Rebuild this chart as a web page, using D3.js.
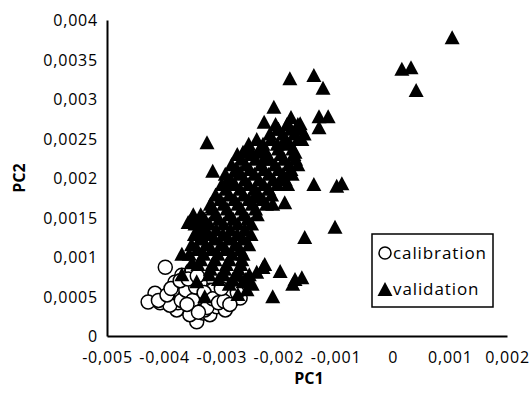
<!DOCTYPE html>
<html>
<head>
<meta charset="utf-8">
<script src="https://cdn.jsdelivr.net/npm/d3@7"></script>
<style>
  body { margin: 0; background: #fff; }
  svg text { font-family: "Open Sans", sans-serif; fill: #000; }
</style>
</head>
<body>
<figure id="scatter" style="margin:0"></figure>
<script>
// tick labels
const xTicks = [-0.005, -0.004, -0.003, -0.002, -0.001, 0, 0.001, 0.002];
const yTicks = [0, 0.0005, 0.001, 0.0015, 0.002, 0.0025, 0.003, 0.0035, 0.004];

// calibration set (PC1, PC2)
const calibration = [
  [-0.00398, 0.00087], [-0.00416, 0.00054], [-0.00428, 0.00043], [-0.00407, 0.00042],
  [-0.00385, 0.00048], [-0.00372, 0.00056], [-0.00369, 0.00077], [-0.00381, 0.00068],
  [-0.00355, 0.00077], [-0.00343, 0.00018], [-0.00364, 0.00035], [-0.00349, 0.00037],
  [-0.00325, 0.00042], [-0.00311, 0.00039], [-0.00302, 0.00049], [-0.00280, 0.00046],
  [-0.00276, 0.00062], [-0.00320, 0.00058], [-0.00337, 0.00067], [-0.00360, 0.00061],
  [-0.00378, 0.00033], [-0.00332, 0.00029], [-0.00355, 0.00027], [-0.00320, 0.00027],
  [-0.00376, 0.00042], [-0.00315, 0.00058], [-0.00297, 0.00052], [-0.00308, 0.00037],
  [-0.00341, 0.00048], [-0.00364, 0.00050], [-0.00346, 0.00056], [-0.00293, 0.00033],
  [-0.00267, 0.00048], [-0.00390, 0.00039], [-0.00351, 0.00084], [-0.00329, 0.00033],
  [-0.00288, 0.00056], [-0.00410, 0.00045], [-0.00395, 0.00052], [-0.00370, 0.00045],
  [-0.00362, 0.00058], [-0.00350, 0.00045], [-0.00345, 0.00062], [-0.00330, 0.00055],
  [-0.00325, 0.00036], [-0.00315, 0.00047], [-0.00305, 0.00042], [-0.00295, 0.00044],
  [-0.00285, 0.00040], [-0.00340, 0.00030], [-0.00360, 0.00040], [-0.00388, 0.00060],
  [-0.00372, 0.00070], [-0.00358, 0.00072], [-0.00342, 0.00076], [-0.00272, 0.00055],
  [-0.00300, 0.00060]
];

// validation set (PC1, PC2)
const validation = [
  [0.00104, 0.00377], [0.00016, 0.00337], [0.00032, 0.00339], [0.00041, 0.00310],
  [-0.00180, 0.00325], [-0.00138, 0.00329], [-0.00122, 0.00313], [-0.00208, 0.00289],
  [-0.00225, 0.00270], [-0.00178, 0.00276], [-0.00162, 0.00268], [-0.00129, 0.00277],
  [-0.00113, 0.00277], [-0.00129, 0.00263], [-0.00201, 0.00261], [-0.00159, 0.00248],
  [-0.00171, 0.00232], [-0.00262, 0.00232], [-0.00236, 0.00232], [-0.00192, 0.00244],
  [-0.00220, 0.00223], [-0.00192, 0.00201], [-0.00138, 0.00191], [-0.00098, 0.00189],
  [-0.00089, 0.00192], [-0.00238, 0.00181], [-0.00325, 0.00244], [-0.00315, 0.00208],
  [-0.00271, 0.00208], [-0.00290, 0.00195], [-0.00267, 0.00206], [-0.00232, 0.00175],
  [-0.00210, 0.00166], [-0.00189, 0.00168], [-0.00154, 0.00124], [-0.00101, 0.00137],
  [-0.00197, 0.00081], [-0.00227, 0.00086], [-0.00238, 0.00080], [-0.00171, 0.00071],
  [-0.00159, 0.00073], [-0.00175, 0.00065], [-0.00210, 0.00049], [-0.00224, 0.00090],
  [-0.00262, 0.00068], [-0.00262, 0.00103], [-0.00316, 0.00163], [-0.00349, 0.00153],
  [-0.00332, 0.00149], [-0.00358, 0.00143], [-0.00369, 0.00103], [-0.00351, 0.00092],
  [-0.00341, 0.00130], [-0.00325, 0.00130], [-0.00355, 0.00144], [-0.00337, 0.00143],
  [-0.00369, 0.00077], [-0.00343, 0.00068], [-0.00329, 0.00049], [-0.00255, 0.00058],
  // dense core
  [-0.00205, 0.00267], [-0.00185, 0.00267], [-0.00166, 0.00267],
  [-0.00215, 0.00255], [-0.00192, 0.00255], [-0.00172, 0.00255], [-0.00155, 0.00255],
  [-0.00252, 0.00242], [-0.00227, 0.00242], [-0.00202, 0.00242], [-0.00180, 0.00242],
  [-0.00272, 0.00229], [-0.00247, 0.00229], [-0.00220, 0.00229], [-0.00196, 0.00229], [-0.00173, 0.00229],
  [-0.00282, 0.00216], [-0.00257, 0.00216], [-0.00231, 0.00216], [-0.00206, 0.00216], [-0.00182, 0.00216], [-0.00166, 0.00216],
  [-0.00293, 0.00204], [-0.00266, 0.00204], [-0.00242, 0.00204], [-0.00217, 0.00204], [-0.00192, 0.00204], [-0.00176, 0.00204],
  [-0.00299, 0.00191], [-0.00276, 0.00191], [-0.00252, 0.00191], [-0.00226, 0.00191], [-0.00202, 0.00191], [-0.00184, 0.00191],
  [-0.00310, 0.00178], [-0.00286, 0.00178], [-0.00261, 0.00178], [-0.00236, 0.00178], [-0.00212, 0.00178],
  [-0.00319, 0.00166], [-0.00296, 0.00166], [-0.00271, 0.00166], [-0.00246, 0.00166], [-0.00221, 0.00166],
  [-0.00336, 0.00153], [-0.00311, 0.00153], [-0.00286, 0.00153], [-0.00261, 0.00153], [-0.00237, 0.00153],
  [-0.00346, 0.00141], [-0.00321, 0.00141], [-0.00296, 0.00141], [-0.00271, 0.00141], [-0.00247, 0.00141],
  [-0.00347, 0.00128], [-0.00322, 0.00128], [-0.00297, 0.00128], [-0.00272, 0.00128], [-0.00248, 0.00128],
  [-0.00352, 0.00115], [-0.00327, 0.00115], [-0.00301, 0.00115], [-0.00276, 0.00115], [-0.00252, 0.00115],
  [-0.00356, 0.00103], [-0.00331, 0.00103], [-0.00306, 0.00103], [-0.00281, 0.00103],
  [-0.00341, 0.00090], [-0.00316, 0.00090], [-0.00291, 0.00090], [-0.00266, 0.00090],
  [-0.00321, 0.00077], [-0.00296, 0.00077], [-0.00271, 0.00077], [-0.00251, 0.00077],
  [-0.00286, 0.00065], [-0.00246, 0.00065],
  [-0.00271, 0.00052],
  // in-between rows of the core
  [-0.00200, 0.00261], [-0.00178, 0.00261], [-0.00160, 0.00261],
  [-0.00238, 0.00248], [-0.00213, 0.00248], [-0.00188, 0.00248], [-0.00166, 0.00248],
  [-0.00250, 0.00236], [-0.00225, 0.00236], [-0.00200, 0.00236], [-0.00175, 0.00236],
  [-0.00265, 0.00223], [-0.00240, 0.00223], [-0.00215, 0.00223], [-0.00190, 0.00223], [-0.00170, 0.00223],
  [-0.00275, 0.00210], [-0.00250, 0.00210], [-0.00225, 0.00210], [-0.00200, 0.00210], [-0.00178, 0.00210],
  [-0.00284, 0.00197], [-0.00259, 0.00197], [-0.00234, 0.00197], [-0.00209, 0.00197], [-0.00188, 0.00197],
  [-0.00292, 0.00185], [-0.00267, 0.00185], [-0.00242, 0.00185], [-0.00217, 0.00185],
  [-0.00302, 0.00172], [-0.00277, 0.00172], [-0.00252, 0.00172], [-0.00227, 0.00172],
  [-0.00315, 0.00160], [-0.00290, 0.00160], [-0.00265, 0.00160], [-0.00240, 0.00160],
  [-0.00329, 0.00147], [-0.00304, 0.00147], [-0.00279, 0.00147], [-0.00254, 0.00147],
  [-0.00334, 0.00134], [-0.00309, 0.00134], [-0.00284, 0.00134], [-0.00259, 0.00134],
  [-0.00337, 0.00122], [-0.00312, 0.00122], [-0.00287, 0.00122], [-0.00262, 0.00122],
  [-0.00342, 0.00109], [-0.00317, 0.00109], [-0.00292, 0.00109], [-0.00267, 0.00109],
  [-0.00336, 0.00096], [-0.00311, 0.00096], [-0.00286, 0.00096], [-0.00264, 0.00096],
  [-0.00319, 0.00084], [-0.00294, 0.00084], [-0.00270, 0.00084],
  [-0.00305, 0.00071], [-0.00280, 0.00071], [-0.00258, 0.00071]
];

const width = 530, height = 396;
const margin = { top: 20, right: 23, bottom: 60, left: 107 };

const locale = d3.formatLocale({ decimal: ",", thousands: ".", grouping: [3], currency: ["", ""], minus: "-" });
const fmt = locale.format("~g");

const svg = d3.select("figure#scatter")
  .append("svg")
  .attr("width", width)
  .attr("height", height);

const x = d3.scaleLinear()
  .domain([-0.005, 0.002])
  .range([margin.left, width - margin.right]);

const y = d3.scaleLinear()
  .domain([0, 0.004])
  .range([height - margin.bottom, margin.top]);

// Y axis
const yAxis = svg.append("g")
  .attr("transform", "translate(" + margin.left + ",0)")
  .call(d3.axisLeft(y).tickValues(yTicks).tickFormat(fmt).tickSize(0).tickPadding(9));
yAxis.select(".domain").attr("stroke", "#000").attr("stroke-width", 2);
yAxis.selectAll("text")
  .style("font-size", "16px")
  .style("letter-spacing", "0.8px")
  .attr("dy", "0.35em");

// X axis
const xAxis = svg.append("g")
  .attr("transform", "translate(0," + y(0) + ")")
  .call(d3.axisBottom(x).tickValues(xTicks).tickFormat(fmt).tickSize(0).tickPadding(16));
xAxis.select(".domain").attr("stroke", "#000").attr("stroke-width", 2);
xAxis.selectAll("text")
  .style("font-size", "16px")
  .style("letter-spacing", "0.8px");

// axis titles
svg.append("text")
  .attr("x", (x.range()[0] + x.range()[1]) / 2 + 2)
  .attr("y", 384)
  .attr("text-anchor", "middle")
  .style("font-size", "16px")
  .style("font-weight", "bold")
  .text("PC1");

svg.append("text")
  .attr("transform", "translate(25," + (y.range()[0] + y.range()[1]) / 2 + ") rotate(-90)")
  .attr("text-anchor", "middle")
  .style("font-size", "16px")
  .style("font-weight", "bold")
  .text("PC2");

const triPath = "M0,-8L7.5,6L-7.5,6Z";

// calibration circles
svg.append("g")
  .selectAll("circle")
  .data(calibration)
  .enter()
  .append("circle")
  .attr("cx", d => x(d[0]))
  .attr("cy", d => y(d[1]))
  .attr("r", 7)
  .attr("fill", "#fff")
  .attr("stroke", "#000")
  .attr("stroke-width", 1.5);

// validation triangles
svg.append("g")
  .selectAll("path")
  .data(validation)
  .enter()
  .append("path")
  .attr("d", triPath)
  .attr("transform", d => "translate(" + x(d[0]) + "," + y(d[1]) + ")")
  .attr("fill", "#000");

// legend
const legend = svg.append("g").attr("transform", "translate(372,234)");
legend.append("rect")
  .attr("width", 121)
  .attr("height", 73)
  .attr("fill", "#fff")
  .attr("stroke", "#000")
  .attr("stroke-width", 1.5);
legend.append("circle")
  .attr("cx", 13).attr("cy", 19).attr("r", 6)
  .attr("fill", "#fff").attr("stroke", "#000").attr("stroke-width", 1.5);
legend.append("path")
  .attr("d", triPath)
  .attr("transform", "translate(13,56)")
  .attr("fill", "#000");
legend.append("text")
  .attr("x", 21).attr("y", 25)
  .style("font-size", "17px")
  .style("letter-spacing", "0.9px")
  .text("calibration");
legend.append("text")
  .attr("x", 21).attr("y", 61)
  .style("font-size", "17px")
  .style("letter-spacing", "0.9px")
  .text("validation");
</script>
</body>
</html>
